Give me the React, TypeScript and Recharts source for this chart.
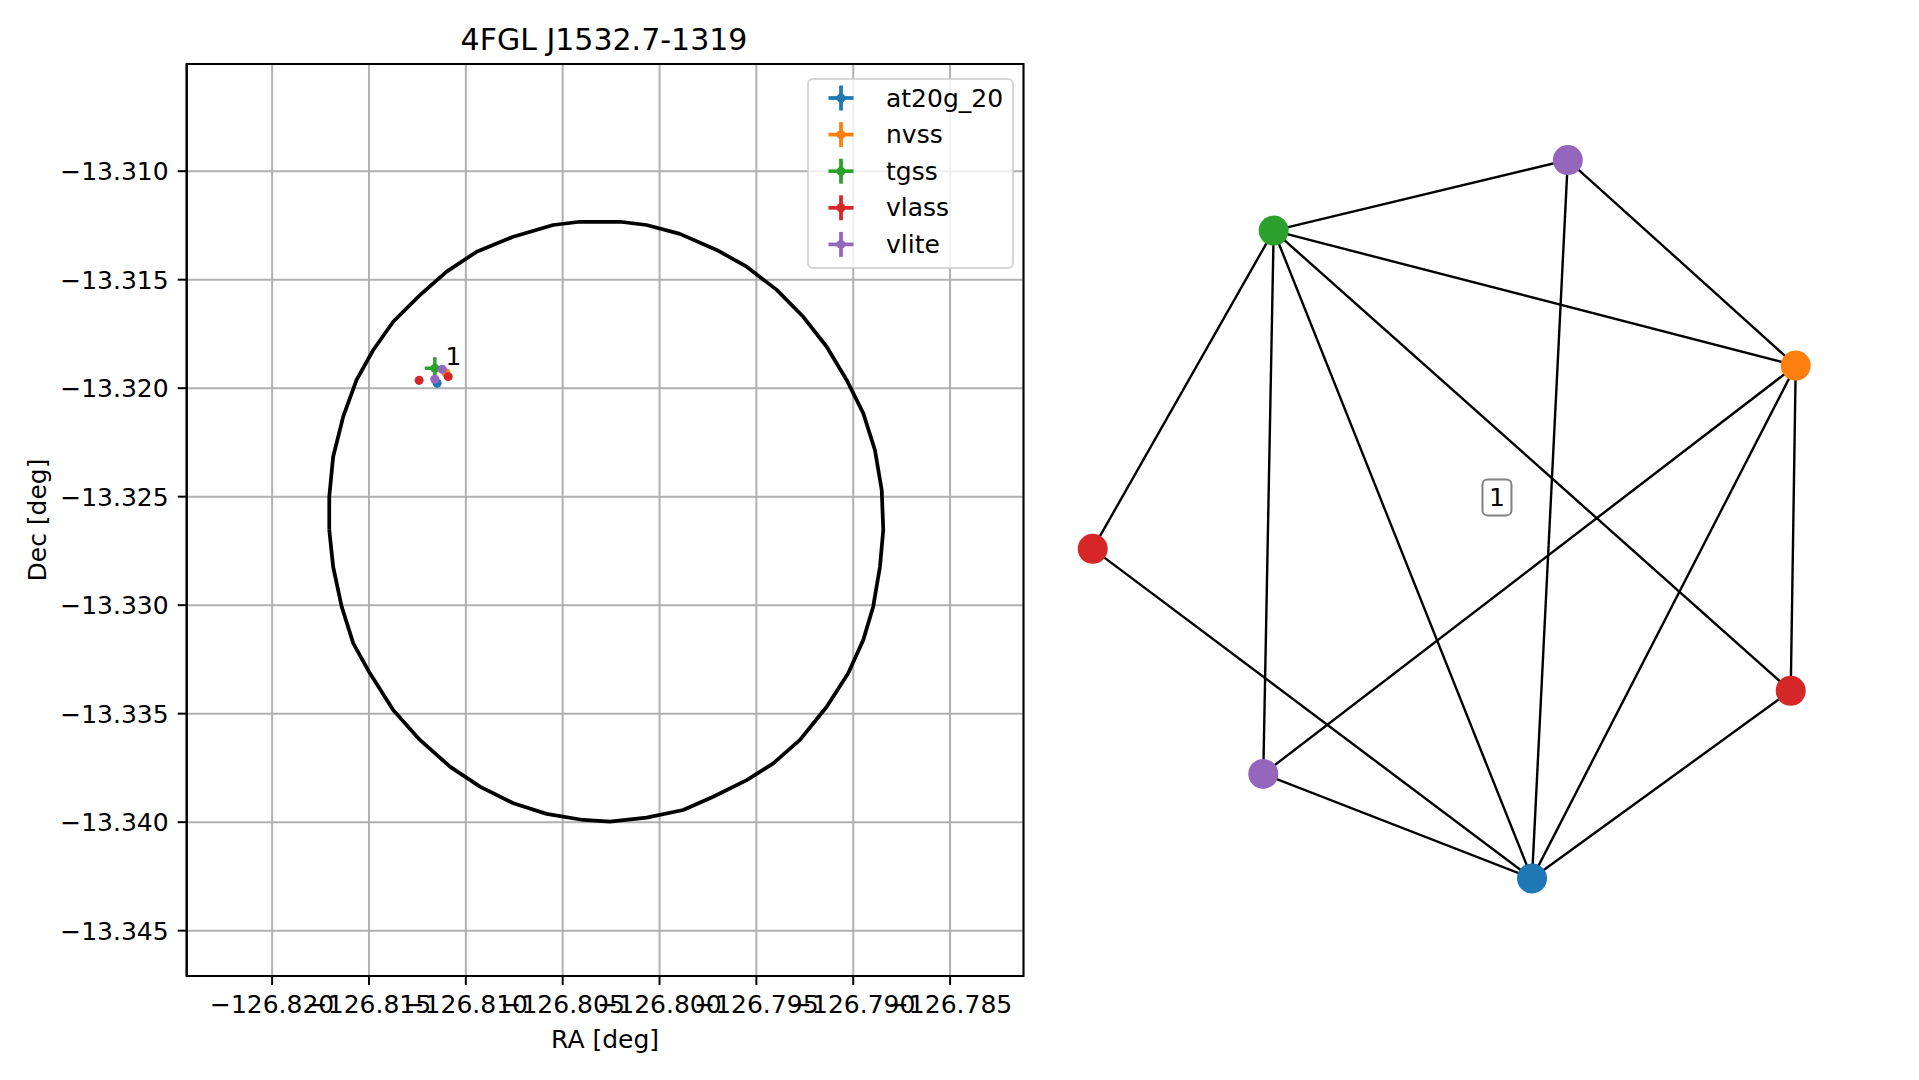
import React from "react";
import {
  ScatterChart,
  Scatter,
  XAxis,
  YAxis,
  CartesianGrid,
  ErrorBar,
  ReferenceArea,
  Legend,
} from "recharts";

const FONT = "'DejaVu Sans', sans-serif";

// matplotlib tab10, one per survey
const SURVEY_COLORS: Record<string, string> = {
  at20g_20: "#1f77b4",
  nvss: "#ff7f0e",
  tgss: "#2ca02c",
  vlass: "#d62728",
  vlite: "#9467bd",
};
const SURVEYS = ["at20g_20", "nvss", "tgss", "vlass", "vlite"];

// radio counterparts (RA / Dec in deg), errors in deg
const AT20G = [{ x: -126.81148, y: -13.31977 }];
const NVSS = [{ x: -126.81103, y: -13.31929 }];
const TGSS = [{ x: -126.8116, y: -13.31908, ex: 0.00052, ey: 0.00051 }];
const VLASS = [
  { x: -126.81091, y: -13.31947 },
  { x: -126.81241, y: -13.31964 },
];
const VLITE = [
  { x: -126.81122, y: -13.31913 },
  { x: -126.8116, y: -13.31959 },
];
const SERIES = [AT20G, NVSS, TGSS, VLASS, VLITE];

const SOURCE_LABEL = [{ x: -126.81105, y: -13.31893, text: "1" }];

// 4FGL error circle, vertices
const CIRCLE_RA = [
  -126.81705, -126.81705, -126.81685, -126.81633, -126.81564, -126.81478, -126.81375,
  -126.81237, -126.81099, -126.80944, -126.80755, -126.80549, -126.80411, -126.80204,
  -126.80067, -126.79895, -126.79705, -126.7955, -126.79395, -126.79258, -126.79137,
  -126.79034, -126.78948, -126.78888, -126.78853, -126.78845, -126.78862, -126.78897,
  -126.78948, -126.79026, -126.79137, -126.79275, -126.79413, -126.7955, -126.79723,
  -126.79878, -126.80067, -126.80256, -126.80394, -126.80583, -126.80755, -126.80927,
  -126.81082, -126.81237, -126.81375, -126.81495, -126.81581, -126.81641, -126.81685,
  -126.81705,
];
const CIRCLE_DEC = [
  -13.32653, -13.325, -13.32316, -13.32131, -13.31962, -13.31824, -13.31694, -13.31571,
  -13.31463, -13.31371, -13.31302, -13.31248, -13.31233, -13.31233, -13.31248, -13.31289,
  -13.31363, -13.3144, -13.31547, -13.31671, -13.31809, -13.31962, -13.32116, -13.32285,
  -13.32469, -13.32653, -13.32823, -13.33007, -13.3316, -13.33314, -13.33468, -13.33621,
  -13.33729, -13.33806, -13.33883, -13.33944, -13.33979, -13.33998, -13.3399, -13.33962,
  -13.33913, -13.33836, -13.33744, -13.33621, -13.33483, -13.33314, -13.33176, -13.33007,
  -13.32823, -13.32653,
];
const circleData = CIRCLE_RA.map((x, i) => ({ x, y: CIRCLE_DEC[i] }));

const RA_TICKS = [-126.82, -126.815, -126.81, -126.805, -126.8, -126.795, -126.79, -126.785];
const DEC_TICKS = [-13.31, -13.315, -13.32, -13.325, -13.33, -13.335, -13.34, -13.345];
const RA_DOMAIN = [-126.82441, -126.78121];
const DEC_DOMAIN = [-13.34709, -13.30506];

// match graph (spring layout coords)
const NODE_IDS = ["vlite_a", "tgss", "nvss", "vlass_a", "vlass_b", "vlite_b", "at20g_20"];
const NODE_SURVEY = ["vlite", "tgss", "nvss", "vlass", "vlass", "vlite", "at20g_20"];
const NODE_X = [0.319, -0.445, 0.911, -0.915, 0.898, -0.472, 0.226];
const NODE_Y = [0.923, 0.742, 0.396, -0.074, -0.438, -0.651, -0.919];
const EDGES = [
  ["tgss", "vlite_a"],
  ["tgss", "nvss"],
  ["tgss", "vlass_a"],
  ["tgss", "vlite_b"],
  ["tgss", "at20g_20"],
  ["tgss", "vlass_b"],
  ["vlite_a", "nvss"],
  ["vlite_a", "at20g_20"],
  ["nvss", "vlite_b"],
  ["nvss", "at20g_20"],
  ["nvss", "vlass_b"],
  ["vlass_a", "at20g_20"],
  ["vlite_b", "at20g_20"],
  ["vlass_b", "at20g_20"],
];
const GROUP_LABEL = [{ x: 0.135, y: 0.058, text: "1" }];

const nodeData = NODE_IDS.map((id, i) => ({
  id,
  x: NODE_X[i],
  y: NODE_Y[i],
  color: SURVEY_COLORS[NODE_SURVEY[i]],
}));
const edgeData = EDGES.map(([a, b]) => {
  const ia = NODE_IDS.indexOf(a);
  const ib = NODE_IDS.indexOf(b);
  return [
    { x: NODE_X[ia], y: NODE_Y[ia] },
    { x: NODE_X[ib], y: NODE_Y[ib] },
  ];
});

const fmt = (v: number) => (v < 0 ? "\u2212" : "") + Math.abs(v).toFixed(3);
const tickStyle = { fill: "#000", fontSize: 25, fontFamily: FONT };
const noShape = () => <g />;

function DecLabel(props: any) {
  const vb = props.viewBox || { y: 64, height: 912 };
  const cy = vb.y + vb.height / 2;
  return (
    <text
      transform={`translate(46, ${cy}) rotate(-90)`}
      textAnchor="middle"
      fontSize={25}
      fontFamily={FONT}
      fill="#000"
    >
      Dec [deg]
    </text>
  );
}

function RaLabel(props: any) {
  const vb = props.viewBox || { x: 186.7, width: 836.8 };
  return (
    <text x={vb.x + vb.width / 2} y={1048} textAnchor="middle" fontSize={25} fontFamily={FONT} fill="#000">
      RA [deg]
    </text>
  );
}

function LegendBox() {
  return (
    <svg width={207} height={191} style={{ display: "block" }}>
      <rect
        x={1}
        y={1}
        width={205}
        height={189}
        rx={5}
        fill="#fff"
        fillOpacity={0.8}
        stroke="#cccccc"
        strokeOpacity={0.8}
        strokeWidth={2}
      />
      {SURVEYS.map((s, i) => {
        const cy = 20 + i * 36.6;
        const c = SURVEY_COLORS[s];
        return (
          <g key={s}>
            <line x1={21.5} x2={46.5} y1={cy} y2={cy} stroke={c} strokeWidth={3.75} />
            <line x1={34} x2={34} y1={cy - 12.5} y2={cy + 12.5} stroke={c} strokeWidth={3.75} />
            <circle cx={34} cy={cy} r={4.5} fill={c} />
            <text x={79} y={cy + 8.5} fontSize={25} fontFamily={FONT} fill="#000">
              {s}
            </text>
          </g>
        );
      })}
    </svg>
  );
}

function SkyPlot() {
  return (
    <ScatterChart width={1060} height={1080} margin={{ top: 64, right: 36.5, bottom: 0, left: 0 }}>
      <CartesianGrid stroke="#b0b0b0" strokeWidth={2} />
      <XAxis
        dataKey="x"
        type="number"
        domain={RA_DOMAIN}
        ticks={RA_TICKS}
        interval={0}
        allowDataOverflow
        height={104}
        tickFormatter={fmt}
        tick={tickStyle}
        tickSize={9}
        tickMargin={10}
        axisLine={{ stroke: "#000", strokeWidth: 2 }}
        tickLine={{ stroke: "#000", strokeWidth: 2 }}
        label={<RaLabel />}
      />
      <YAxis
        dataKey="y"
        type="number"
        domain={DEC_DOMAIN}
        ticks={DEC_TICKS}
        interval={0}
        allowDataOverflow
        width={186.7}
        tickFormatter={fmt}
        tick={tickStyle}
        tickSize={9}
        tickMargin={9}
        axisLine={{ stroke: "#000", strokeWidth: 2 }}
        tickLine={{ stroke: "#000", strokeWidth: 2 }}
        label={<DecLabel />}
      />
      <ReferenceArea
        x1={RA_DOMAIN[0]}
        x2={RA_DOMAIN[1]}
        y1={DEC_DOMAIN[0]}
        y2={DEC_DOMAIN[1]}
        fill="none"
        stroke="#000"
        strokeWidth={2}
        ifOverflow="visible"
      />
      <Scatter
        data={circleData}
        fill="#000"
        line={{ stroke: "#000", strokeWidth: 3.75, strokeLinejoin: "round" }}
        shape={noShape}
        isAnimationActive={false}
      />
      {SERIES.map((d, i) => (
        <Scatter
          key={SURVEYS[i]}
          name={SURVEYS[i]}
          data={d}
          fill={SURVEY_COLORS[SURVEYS[i]]}
          isAnimationActive={false}
        >
          {SURVEYS[i] === "tgss" && (
            <ErrorBar dataKey="ex" direction="x" width={0} stroke={SURVEY_COLORS.tgss} strokeWidth={3.5} />
          )}
          {SURVEYS[i] === "tgss" && (
            <ErrorBar dataKey="ey" direction="y" width={0} stroke={SURVEY_COLORS.tgss} strokeWidth={3.5} />
          )}
        </Scatter>
      ))}
      <Scatter
        data={SOURCE_LABEL}
        isAnimationActive={false}
        shape={(p: any) => (
          <text x={p.cx} y={p.cy} fontSize={25} fontFamily={FONT} fill="#000">
            {p.payload.text}
          </text>
        )}
      />
      <Legend
        layout="vertical"
        align="center"
        verticalAlign="middle"
        wrapperStyle={{ left: 806.7, top: 78.3, width: 207, height: 191 }}
        content={() => <LegendBox />}
      />
    </ScatterChart>
  );
}

function MatchGraph() {
  return (
    <ScatterChart width={879} height={1080} margin={{ top: 130, right: 89, bottom: 170, left: 20 }}>
      <XAxis dataKey="x" type="number" domain={[-1, 1]} hide allowDataOverflow />
      <YAxis dataKey="y" type="number" domain={[-1, 1]} hide allowDataOverflow />
      {edgeData.map((d, i) => (
        <Scatter
          key={"e" + i}
          data={d}
          fill="#000"
          line={{ stroke: "#000", strokeWidth: 2.4 }}
          shape={noShape}
          isAnimationActive={false}
        />
      ))}
      <Scatter
        data={nodeData}
        isAnimationActive={false}
        shape={(p: any) => <circle cx={p.cx} cy={p.cy} r={15} fill={p.payload.color} />}
      />
      <Scatter
        data={GROUP_LABEL}
        isAnimationActive={false}
        shape={(p: any) => (
          <g>
            <rect
              x={p.cx - 14.5}
              y={p.cy - 18}
              width={29}
              height={36}
              rx={5}
              fill="#fff"
              stroke="#808080"
              strokeWidth={2}
            />
            <text
              x={p.cx}
              y={p.cy + 9}
              textAnchor="middle"
              fontSize={25}
              fontFamily={FONT}
              fill="#000"
            >
              {p.payload.text}
            </text>
          </g>
        )}
      />
    </ScatterChart>
  );
}

export default function App() {
  return (
    <div
      style={{
        position: "absolute",
        left: 0,
        top: 0,
        width: 1919,
        height: 1080,
        background: "#fff",
        fontFamily: FONT,
        overflow: "hidden",
      }}
    >
      <div
        style={{
          position: "absolute",
          left: 304,
          top: 22,
          width: 600,
          textAlign: "center",
          fontSize: 30,
          lineHeight: "normal",
          color: "#000",
        }}
      >
        4FGL J1532.7-1319
      </div>
      <div style={{ position: "absolute", left: 0, top: 0 }}>
        <SkyPlot />
      </div>
      <div style={{ position: "absolute", left: 1040, top: 0 }}>
        <MatchGraph />
      </div>
    </div>
  );
}
